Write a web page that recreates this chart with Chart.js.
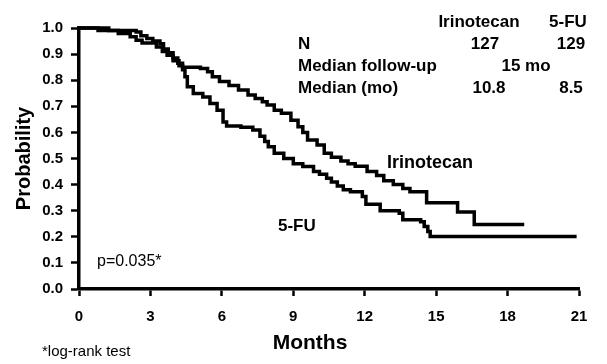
<!DOCTYPE html>
<html>
<head>
<meta charset="utf-8">
<script src="https://cdn.jsdelivr.net/npm/chart.js@4"></script>
<style>
  html, body { margin: 0; padding: 0; background: #fff; }
  #wrap { width: 607px; height: 364px; }
</style>
</head>
<body>
<div id="wrap"><canvas id="km" width="607" height="364"></canvas></div>
<script>
// Kaplan-Meier odhady (měsíce, pravděpodobnost)
const irinoMonths = [0, 0.8, 2.4, 2.6, 2.85, 3.1, 3.4, 3.55, 3.75, 3.95, 4.15, 4.35, 5.1, 5.4, 5.6, 5.9, 6.3, 6.7, 7.1, 7.4,
  7.7, 7.9, 8.2, 8.5, 8.9, 9.2, 9.4, 9.6, 10.0, 10.3, 10.6, 11.0, 11.3, 11.6, 12.1, 12.5, 12.8, 13.2, 13.6, 13.9,
  14.6, 15.9, 16.6, 18.7];
const irinoProb = [1.0, 0.99, 0.985, 0.97, 0.96, 0.95, 0.94, 0.92, 0.905, 0.885, 0.865, 0.85, 0.845, 0.832, 0.813, 0.795, 0.78, 0.762, 0.743, 0.73,
  0.717, 0.705, 0.685, 0.673, 0.647, 0.622, 0.6, 0.571, 0.552, 0.52, 0.505, 0.49, 0.48, 0.47, 0.45, 0.435, 0.415, 0.4, 0.385, 0.373,
  0.33, 0.295, 0.247, 0.247];

const fuMonths = [0, 1.1, 1.25, 1.65, 2.15, 2.4, 2.65, 3.25, 3.5, 3.7, 3.95, 4.2, 4.35, 4.45, 4.55, 4.8, 5.2, 5.5, 5.8, 6.05,
  6.2, 6.8, 7.3, 7.6, 7.8, 7.95, 8.2, 8.6, 9.0, 9.4, 9.85, 10.1, 10.4, 10.6, 10.85, 11.1, 11.4, 11.9, 12.05, 12.65,
  13.45, 13.6, 14.35, 14.5, 14.65, 14.75, 20.9];
const fuProb = [1.0, 1.0, 0.99, 0.979, 0.966, 0.953, 0.943, 0.927, 0.91, 0.896, 0.875, 0.855, 0.84, 0.813, 0.775, 0.749, 0.736, 0.711, 0.685, 0.64,
  0.625, 0.62, 0.609, 0.585, 0.565, 0.545, 0.52, 0.5, 0.48, 0.469, 0.45, 0.44, 0.424, 0.41, 0.395, 0.38, 0.373, 0.354, 0.325, 0.3,
  0.29, 0.265, 0.258, 0.239, 0.22, 0.201, 0.201];

const xTicks = [0, 3, 6, 9, 12, 15, 18, 21];
const yTicks = [0, 0.1, 0.2, 0.3, 0.4, 0.5, 0.6, 0.7, 0.8, 0.9, 1.0];

const FONT = "'Liberation Sans', Arial, sans-serif";

function toPoints(xs, ys) {
  return xs.map((x, i) => ({ x: x, y: ys[i] }));
}

// texty v grafu (tabulka, popisky křivek, p-hodnota)
const annotations = {
  id: "annotations",
  afterDraw(chart) {
    const ctx = chart.ctx;
    ctx.save();
    ctx.fillStyle = "#000";
    ctx.textBaseline = "middle";

    function text(str, x, y, font, align) {
      ctx.font = font;
      ctx.textAlign = align || "left";
      ctx.fillText(str, x, y);
    }

    const b17 = "bold 17px " + FONT;
    text("Irinotecan", 479, 22, b17, "center");
    text("5-FU", 568, 22, b17, "center");
    text("N", 298, 44, b17);
    text("127", 485, 44, b17, "center");
    text("129", 571, 44, b17, "center");
    text("Median follow-up", 298, 66, b17);
    text("15 mo", 526, 66, b17, "center");
    text("Median (mo)", 298, 88, b17);
    text("10.8", 489, 88, b17, "center");
    text("8.5", 571, 88, b17, "center");

    text("Irinotecan", 387, 163, "bold 18px " + FONT);
    text("5-FU", 278, 226, b17);
    text("p=0.035*", 97, 262, "16px " + FONT);
    text("*log-rank test", 42, 352, "15px " + FONT);
    text("Months", 310, 343, "bold 21px " + FONT, "center");
    ctx.restore();
  }
};

new Chart(document.getElementById("km"), {
  type: "line",
  data: {
    datasets: [
      {
        label: "Irinotecan",
        data: toPoints(irinoMonths, irinoProb),
        borderColor: "#000",
        borderWidth: 3.5,
        pointRadius: 0,
        stepped: "before",
        fill: false,
        clip: false
      },
      {
        label: "5-FU",
        data: toPoints(fuMonths, fuProb),
        borderColor: "#000",
        borderWidth: 3.5,
        pointRadius: 0,
        stepped: "before",
        fill: false,
        clip: false
      }
    ]
  },
  options: {
    responsive: false,
    animation: false,
    events: [],
    layout: { padding: { left: 0, top: 28, right: 28, bottom: 0 } },
    plugins: {
      legend: { display: false },
      tooltip: { enabled: false }
    },
    scales: {
      x: {
        type: "linear",
        min: 0,
        max: 21,
        afterBuildTicks: s => { s.ticks = xTicks.map(v => ({ value: v })); },
        ticks: {
          color: "#000",
          font: { family: FONT, size: 15, weight: "bold" },
          padding: 12,
          maxRotation: 0
        },
        grid: { drawOnChartArea: false, drawTicks: true, tickLength: 7, tickColor: "#000", tickWidth: 2.5 },
        border: { color: "#000", width: 3.5 },
        afterFit: s => { s.height = 75; }
      },
      y: {
        min: 0,
        max: 1,
        afterBuildTicks: s => { s.ticks = yTicks.map(v => ({ value: v })); },
        ticks: {
          color: "#000",
          font: { family: FONT, size: 15, weight: "bold" },
          padding: 8,
          callback: v => v.toFixed(1)
        },
        grid: { drawOnChartArea: false, drawTicks: true, tickLength: 8, tickColor: "#000", tickWidth: 2.5 },
        border: { color: "#000", width: 3.5 },
        title: {
          display: true,
          text: "Probability",
          color: "#000",
          font: { family: FONT, size: 20, weight: "bold" },
          padding: { top: 12, bottom: 0 }
        },
        afterFit: s => { s.width = 79; }
      }
    }
  },
  plugins: [annotations]
});
</script>
</body>
</html>
